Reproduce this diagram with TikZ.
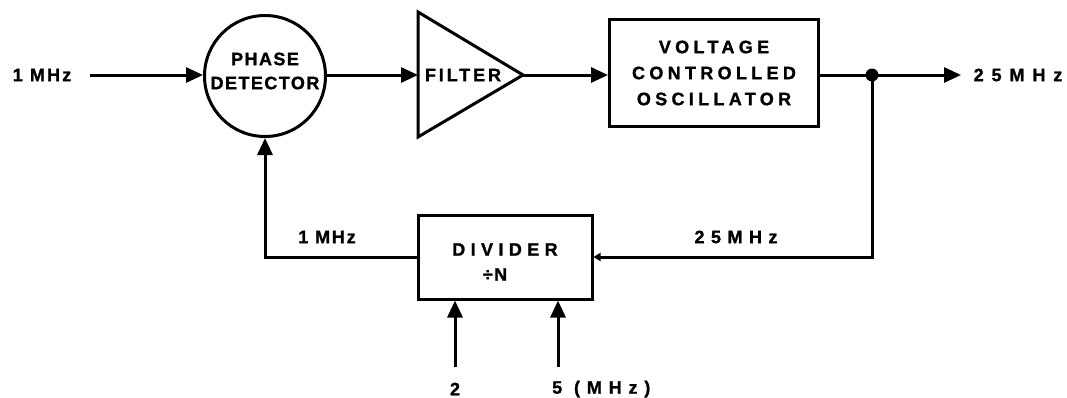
\documentclass[tikz,border=0pt]{standalone}
\usepackage{fontspec}
\setmainfont{Liberation Sans}[BoldFeatures={FakeBold=1.2}]
\usetikzlibrary{arrows.meta}
\newcommand{\lsp}[2]{{\addfontfeature{LetterSpace=#1}#2}}
\begin{document}
\begin{tikzpicture}[x=1pt,y=-1pt,
  wire/.style={line width=3pt},
  arr/.style={wire,-{Triangle[length=17pt,width=15pt]}},
  sarr/.style={wire,-{Triangle[length=7pt,width=8pt]}},
  blk/.style={draw,line width=3pt,inner sep=0pt},
  lbl/.style={font=\fontsize{18}{26}\selectfont\bfseries,inner sep=0pt},
]
\useasboundingbox[fill=white] (0,0) rectangle (1067,397);

% top row
\node[lbl] (inl) at (42,75) {\lsp{12}{1 MHz}};
\coordinate (inStart) at (90,75);
\node[blk,circle,minimum size=121pt,
  label={[lbl,align=center,yshift=5pt]center:\lsp{8}{PHASE}\\[-2pt]\lsp{8}{DETECTOR}}] (pd) at (265,76) {};
\coordinate (fltin) at (418,75);
\coordinate (fltout) at (523,75);
\draw[blk,line join=miter] (418,12) -- (fltout) -- (418,137) -- cycle;
\node[lbl] (flt) at (463,75) {\lsp{16}{FILTER}};
\node[blk,minimum width=209pt,minimum height=107pt,lbl,align=center] (vco) at (714,73)
  {\lsp{24}{VOLTAGE}\\\lsp{24}{CONTROLLED}\\\lsp{24}{OSCILLATOR}};
\coordinate (jn) at (872,75);
\coordinate (outEnd) at (961,75);
\node[lbl] (outl) at (1018,75) {\lsp{44}{25MHz}};

\draw[arr] (inStart) -- (pd.west |- inStart);
\draw[arr] (pd.east |- fltin) -- (fltin);
\draw[arr] (fltout) -- (vco.west |- fltout);
\draw[wire] (vco.east |- jn) -- (jn);
\draw[arr] (jn) -- (outEnd);
\fill (jn) circle (6.5pt);

% divider row
\node[blk,minimum width=174pt,minimum height=84pt,
  label={[lbl,align=center,yshift=-5pt]center:\lsp{30}{DIVIDER}\\[-1pt]\hspace*{-20pt}\lsp{8}{÷N}}] (div) at (505,257) {};
\draw[sarr] (jn) |- (div.east);
\node[lbl] (fbl) at (736,237) {\lsp{36}{25MHz}};
\draw[arr] (div.west) -| (pd.south);
\node[lbl] (fbl1) at (327,237) {\lsp{10}{1 MHz}};

% inputs
\coordinate (in2) at (455,367);
\coordinate (in5) at (558,367);
\draw[arr] (in2) -- (in2 |- div.south);
\draw[arr] (in5) -- (in5 |- div.south);
\node[lbl] (l2) at (455,389) {2};
\node[lbl,anchor=west] (l5) at (552,389) {\lsp{38}{5 (MHz)}};
\end{tikzpicture}
\end{document}
